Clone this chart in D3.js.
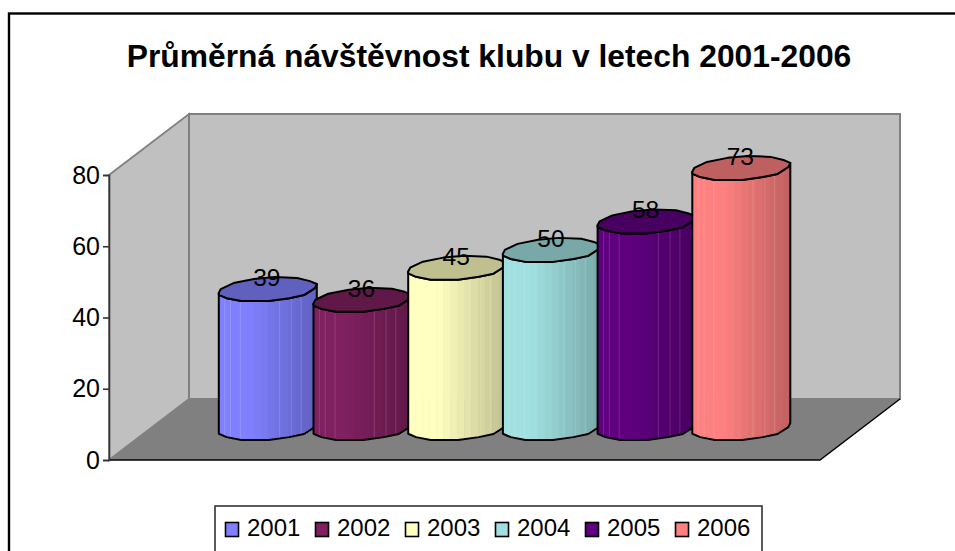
<!DOCTYPE html>
<html><head><meta charset="utf-8">
<script src="https://d3js.org/d3.v7.min.js"></script>
<style>html,body{margin:0;background:#fff;overflow:hidden}svg{display:block}text{font-family:"Liberation Sans",Arial,sans-serif;fill:#000}</style>
</head><body><svg id="c" width="955" height="551"></svg>
<script>
const years=["2001","2002","2003","2004","2005","2006"];
const visits=[39,36,45,50,58,73];
const colors=["#8080FF","#802060","#FFFFC0","#A0E0E0","#600080","#FF8080"];
const ticks=[0,20,40,60,80];
const title="Průměrná návštěvnost klubu v letech 2001-2006";

const svg=d3.select("#c");
const y=d3.scaleLinear().domain([0,80]).range([460,175]);
const x=d3.scaleLinear().domain([0,1]).range([109,820]);
const depth={dx:80,dy:-61};
const barX=d3.scaleOrdinal().domain(years).range(years.map((_,i)=>218.8+i*94.7));
const barW=98, barDepthY=-32;
const legX=d3.scaleOrdinal().domain(years).range(years.map((_,i)=>225+i*90));

// frame (runs off the right and bottom of the picture)
svg.append("rect").attr("x",9).attr("y",13.5).attr("width",1000).attr("height",600).attr("fill","#fff").attr("stroke","#000").attr("stroke-width",2.4);
svg.append("text").attr("x",489).attr("y",67).attr("text-anchor","middle").attr("font-weight","bold").attr("font-size",31.8).text(title);

// walls and floor
const x0=x(0),x1=x(1),yb=y(0),yt=y(80);
const poly=p=>"M"+p.map(d=>d.join(",")).join("L")+"Z";
svg.append("path").attr("d",poly([[x0,yb],[x0,yt],[x0+depth.dx,yt+depth.dy],[x0+depth.dx,yb+depth.dy]])).attr("fill","#C0C0C0").attr("stroke","#808080").attr("stroke-width",1.8);
svg.append("path").attr("d",poly([[x0+depth.dx,yt+depth.dy],[x1+depth.dx,yt+depth.dy],[x1+depth.dx,yb+depth.dy],[x0+depth.dx,yb+depth.dy]])).attr("fill","#C0C0C0").attr("stroke","#808080").attr("stroke-width",2);
svg.append("path").attr("d",poly([[x0,yb],[x1,yb],[x1+depth.dx,yb+depth.dy],[x0+depth.dx,yb+depth.dy]])).attr("fill","#808080");
svg.append("path").attr("d",`M${x0},${yb}L${x1},${yb}L${x1+depth.dx},${yb+depth.dy}`).attr("fill","none").attr("stroke","#000").attr("stroke-width",1.4);

// axis
const axis=d3.axisLeft(y).tickValues(ticks).tickSize(6).tickPadding(3);
const ga=svg.append("g").attr("transform",`translate(${x0},0)`).call(axis);
ga.selectAll("path,line").attr("stroke","#333").attr("stroke-width",1.6);
ga.selectAll("text").attr("font-size",25).attr("font-family",'"Liberation Sans",Arial,sans-serif').attr("fill","#000");

// cylinders: skewed, coarse polygon outline (fractions of bar width / fraction of cap height)
const capH=24;
const rim=[[0,.66],[.02,.5],[.15,.25],[.36,.08],[.57,0],[.8,.04],[.93,.17],[1,.29],[.98,.46],[.87,.75],[.72,.88],[.51,1],[.23,1],[.08,.88],[0,.74]];
const front=[[0,.74],[.08,.88],[.23,1],[.51,1],[.72,.88],[.87,.75],[.98,.46],[1,.29]];
const lines=[.06,.12,.22,.62,.74,.84];
const shade=(c,k)=>{const r=d3.rgb(c);return d3.rgb(r.r*k,r.g*k,r.b*k).formatHex();};
const bright=d3.scaleLinear().domain([0,.3,1]).range([1,1,.75]).clamp(true);
const strips=d3.range(0,1,1/14);
const defs=svg.append("defs");

years.forEach((yr,i)=>{
  const v=visits[i],c=colors[i],L=barX(yr);
  const base=yb+barDepthY, top=y(v)+barDepthY;
  const capTop=top-capH/2, botTop=base-capH/2;
  const pt=(p,oy)=>[L+p[0]*barW,oy+p[1]*capH];
  const body=[pt([0,.66],capTop),...front.map(p=>pt(p,botTop)),...front.slice().reverse().map(p=>pt(p,capTop))];
  const g=svg.append("g");
  const id="clip"+yr;
  defs.append("clipPath").attr("id",id).append("path").attr("d",poly(body));
  const sg=g.append("g").attr("clip-path",`url(#${id})`);
  sg.selectAll("rect.s").data(strips).join("rect").attr("class","s")
    .attr("x",d=>L+d*barW).attr("width",barW/14+.6).attr("y",capTop).attr("height",botTop+capH-capTop)
    .attr("fill",d=>shade(c,bright(d+.035)));
  sg.selectAll("line").data(lines).join("line")
    .attr("x1",d=>L+d*barW).attr("x2",d=>L+d*barW).attr("y1",capTop).attr("y2",botTop+capH)
    .attr("stroke","#fff").attr("stroke-opacity",.14);
  g.append("path").attr("d",poly(body)).attr("fill","none").attr("stroke","#000").attr("stroke-width",2).attr("stroke-linejoin","round");
  g.append("path").attr("d",poly(rim.map(p=>pt(p,capTop)))).attr("fill",shade(c,.75)).attr("stroke","#000").attr("stroke-width",2).attr("stroke-linejoin","round");
});
// value labels
svg.selectAll("text.v").data(years).join("text").attr("class","v")
  .attr("x",d=>barX(d)+barW/2-1).attr("y",(d,i)=>y(visits[i])+barDepthY-3)
  .attr("text-anchor","middle").attr("font-size",24.5).text((d,i)=>visits[i]);

// legend
svg.append("rect").attr("x",215).attr("y",506).attr("width",547).attr("height",70).attr("fill","#fff").attr("stroke","#333").attr("stroke-width",1.6);
const lg=svg.selectAll("g.l").data(years).join("g").attr("class","l").attr("transform",d=>`translate(${legX(d)},0)`);
lg.append("rect").attr("x",.5).attr("y",522.5).attr("width",13).attr("height",14).attr("fill",(d,i)=>colors[i]).attr("stroke","#000").attr("stroke-width",1.6);
lg.append("text").attr("x",22).attr("y",536).attr("font-size",24).text(d=>d);
</script></body></html>
